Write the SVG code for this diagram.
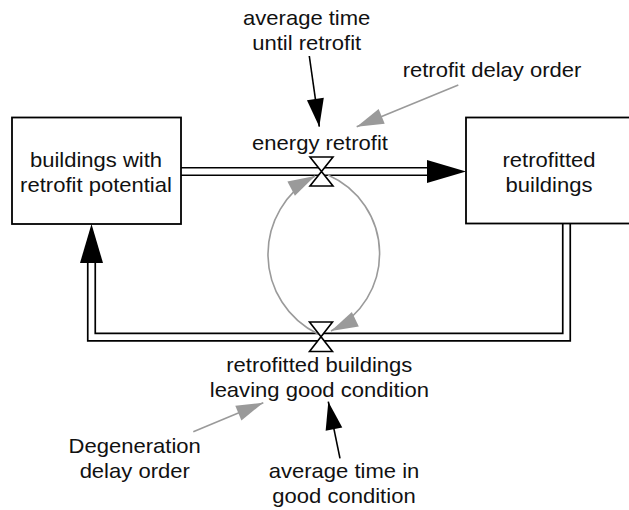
<svg xmlns="http://www.w3.org/2000/svg" xmlns:xlink="http://www.w3.org/1999/xlink" width="629" height="510" viewBox="0 0 629 510">
  <defs>
    <style>
      .stock { fill: #fff; stroke: #000; stroke-width: 1.8; }
      .lbl { font-family: "Liberation Sans", Arial, Helvetica, sans-serif; font-size: 20.5px; fill: #111; text-anchor: middle; }
      .pipe-out { fill: none; stroke: #000; stroke-width: 9.2; stroke-linejoin: miter; }
      .pipe-in { fill: none; stroke: #fff; stroke-width: 5.8; stroke-linejoin: miter; }
      .valve { fill: #fff; stroke: #000; stroke-width: 1.6; stroke-linejoin: miter; }
      .link { fill: none; stroke: #000; stroke-width: 1.6; }
      .link-g { fill: none; stroke: #9a9a9a; stroke-width: 1.6; }
      .flowhead { fill: #000; }
    </style>
    <marker id="ah" markerUnits="userSpaceOnUse" markerWidth="30" markerHeight="20" refX="28" refY="8.5" orient="auto" overflow="visible">
      <path d="M0,0 L28,8.5 L0,17 z" fill="#000"/>
    </marker>
    <marker id="ahg" markerUnits="userSpaceOnUse" markerWidth="30" markerHeight="20" refX="27" refY="8" orient="auto" overflow="visible">
      <path d="M0,0 L27,8 L0,16 z" fill="#9a9a9a"/>
    </marker>
    <!-- flow arrowhead, tip at origin, pointing along +x -->
    <path id="flowhead" class="flowhead" d="M0,0 L-39,-11.5 L-39,11.5 z"/>
  </defs>

  <rect width="629" height="510" fill="#fff"/>

  <!-- connectors: material pipes, feedback arcs and causal links -->
  <g id="connectors">
    <!-- energy retrofit pipe -->
    <path class="pipe-out" d="M181,171.5 H430"/>
    <path class="pipe-in" d="M181,171.5 H431"/>
    <use xlink:href="#flowhead" href="#flowhead" transform="translate(466 171.5)"/>

    <!-- degeneration pipe back to the first stock -->
    <path class="pipe-out" d="M566.5,224 V337.2 H91.5 V261"/>
    <path class="pipe-in" d="M566.5,223 V337.2 H91.5 V260"/>
    <use xlink:href="#flowhead" href="#flowhead" transform="translate(91.5 224) rotate(-90)"/>

    <!-- feedback arcs between the two flows -->
    <path class="link-g" d="M318,334 A88.6,88.6 0 0 1 315,176" marker-end="url(#ahg)"/>
    <path class="link-g" d="M328,175 A85.8,85.8 0 0 1 331,331" marker-end="url(#ahg)"/>

    <!-- causal links -->
    <path class="link" d="M309.3,56 L319.3,126.7" marker-end="url(#ah)"/>
    <path class="link-g" d="M458.3,85 L356.7,126.7" marker-end="url(#ahg)"/>
    <path class="link-g" d="M193.3,431.7 L263.3,402.7" marker-end="url(#ahg)"/>
    <path class="link" d="M340,458.3 L328.3,401.7" marker-end="url(#ah)"/>
  </g>

  <g id="stock-retrofit-potential">
    <rect class="stock" x="12" y="117.5" width="169" height="106.5"/>
    <text class="lbl" transform="translate(96 0) scale(1.075 1)"><tspan x="0" y="167">buildings with</tspan><tspan x="0" y="192">retrofit potential</tspan></text>
  </g>

  <g id="stock-retrofitted">
    <rect class="stock" x="466" y="117.5" width="170" height="106"/>
    <text class="lbl" transform="translate(549 0) scale(1.075 1)"><tspan x="0" y="167">retrofitted</tspan><tspan x="0" y="192">buildings</tspan></text>
  </g>

  <g id="flow-energy-retrofit">
    <polygon class="valve" points="310,157 333,157 310,186 333,186"/>
    <text class="lbl" transform="translate(320 0) scale(1.075 1)"><tspan x="0" y="150">energy retrofit</tspan></text>
  </g>

  <g id="flow-leaving-good-condition">
    <polygon class="valve" points="309.5,322 332.5,322 309.5,351.5 332.5,351.5"/>
    <text class="lbl" transform="translate(319.3 0) scale(1.075 1)"><tspan x="0" y="371.7">retrofitted buildings</tspan><tspan x="0" y="396.7">leaving good condition</tspan></text>
  </g>

  <g id="aux-time-until-retrofit">
    <text class="lbl" transform="translate(306.7 0) scale(1.075 1)"><tspan x="0" y="25">average time</tspan><tspan x="0" y="50">until retrofit</tspan></text>
  </g>

  <g id="aux-retrofit-delay-order">
    <text class="lbl" transform="translate(492 0) scale(1.075 1)"><tspan x="0" y="77">retrofit delay order</tspan></text>
  </g>

  <g id="aux-degeneration-delay-order">
    <text class="lbl" transform="translate(134.7 0) scale(1.075 1)"><tspan x="0" y="453.3">Degeneration</tspan><tspan x="0" y="478.3">delay order</tspan></text>
  </g>

  <g id="aux-time-in-good-condition">
    <text class="lbl" transform="translate(344 0) scale(1.075 1)"><tspan x="0" y="478.3">average time in</tspan><tspan x="0" y="503.3">good condition</tspan></text>
  </g>
</svg>
